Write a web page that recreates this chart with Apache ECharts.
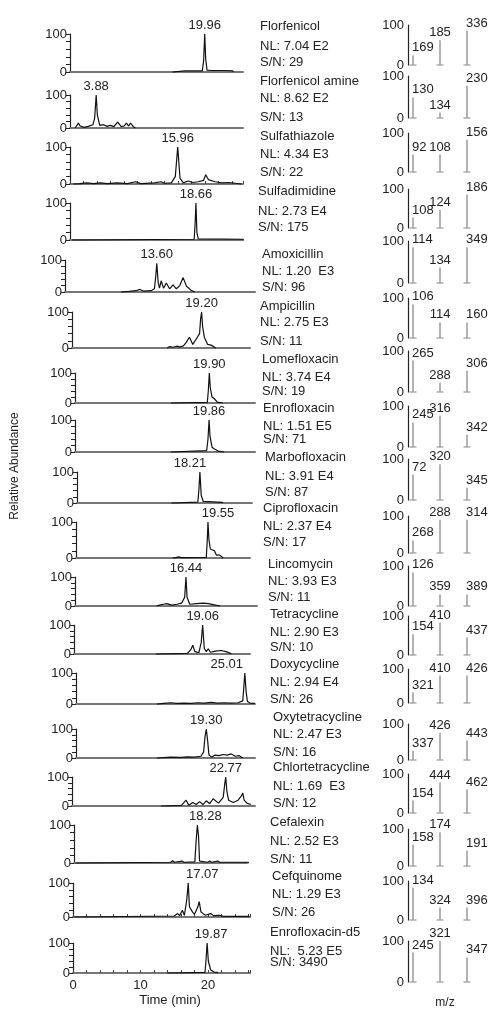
<!DOCTYPE html>
<html>
<head>
<meta charset="utf-8">
<script src="https://cdn.jsdelivr.net/npm/echarts@6/dist/echarts.min.js"></script>
<style>
html,body{margin:0;padding:0;background:#fff}
#chart{width:499px;height:1012px}
</style>
</head>
<body>
<div id="chart"></div>
<script>
// compound names and the NL / S/N lines
var names = ['Florfenicol','Florfenicol amine','Sulfathiazole','Sulfadimidine','Amoxicillin','Ampicillin',
  'Lomefloxacin','Enrofloxacin','Marbofloxacin','Ciprofloxacin','Lincomycin','Tetracycline',
  'Doxycycline','Oxytetracycline','Chlortetracycline','Cefalexin','Cefquinome','Enrofloxacin-d5'];
var nlText = ['NL: 7.04 E2','NL: 8.62 E2','NL: 4.34 E3','NL: 2.73 E4','NL: 1.20  E3','NL: 2.75 E3',
  'NL: 3.74 E4','NL: 1.51 E5','NL: 3.91 E4','NL: 2.37 E4','NL: 3.93 E3','NL: 2.90 E3',
  'NL: 2.94 E4','NL: 2.47 E3','NL: 1.69  E3','NL: 2.52 E3','NL: 1.29 E3','NL:  5.23 E5'];
var snText = ['S/N: 29','S/N: 13','S/N: 22','S/N: 175','S/N: 96','S/N: 11','S/N: 19','S/N: 71','S/N: 87',
  'S/N: 17','S/N: 11','S/N: 10','S/N: 26','S/N: 16','S/N: 12','S/N: 11','S/N: 26','S/N: 3490'];

// chromatograms: [time (min), relative abundance]
var florfenicol = [[15.2,0],[15.3,3],[17,3],[19.6,3],[19.8,30],[19.96,100],[20.1,35],[20.3,5],[21,4],[23,4],[24.1,3],[24.2,0]];
var florfenicolAmine = [[0.75,0],[1.25,15],[1.5,6],[1.75,10],[2.1,2],[2.7,5],[3.4,10],[3.65,30],[3.88,100],[4.05,40],[4.4,8],
  [4.97,10],[5.5,5],[5.97,8],[6.5,4],[7.06,18],[7.6,4],[8.0,6],[8.36,15],[8.7,6],[8.96,15],[9.45,3],[9.7,0]];
var sulfathiazole = [[0.5,0],[0.6,3],[1.5,1],[2.5,3],[3.5,1],[4.5,3],[5.5,1],[7,3],[8.5,1],[9.7,6],[10.5,1],[12.5,3],[13.5,6],
  [14,2],[15,3],[15.6,20],[15.96,100],[16.3,15],[16.8,3],[17.5,8],[18.2,4],[19,6],[19.8,10],[20.1,25],[20.5,12],[21.5,6],
  [22.5,3],[23.5,4],[24.5,2],[25.4,0]];
var sulfadimidine = [[0.3,0],[0.4,2],[18.4,2],[18.55,50],[18.66,100],[18.8,20],[19.0,3],[25.6,2],[25.7,0]];
var amoxicillin = [[8.3,0],[9.5,2],[10.5,4],[11.1,8],[11.6,3],[12.75,4],[13.25,10],[13.45,50],[13.6,90],[13.8,30],[14.0,12],
  [14.25,35],[14.6,12],[15.0,28],[15.5,10],[16.0,22],[16.5,10],[17.0,20],[17.5,45],[18.0,18],[18.7,5],[19.2,0]];
var ampicillin = [[14.1,0],[14.5,4],[15,2],[15.5,5],[16,3],[16.5,6],[16.9,15],[17.4,30],[17.9,10],[18.4,25],[18.9,40],
  [19.05,80],[19.2,100],[19.35,60],[19.6,30],[20.1,10],[20.6,8],[21.3,0]];
var lomefloxacin = [[14.2,0],[14.3,2],[19.6,2],[19.75,40],[19.9,100],[20.05,50],[20.3,20],[20.6,15],[21.1,3],[21.9,0]];
var enrofloxacin = [[14.2,0],[14.3,4],[19.5,4],[19.7,40],[19.86,100],[20.0,50],[20.3,15],[20.6,10],[21.2,3],[22.1,0]];
var marbofloxacin = [[14,0],[14.1,3],[17.9,3],[18.05,40],[18.21,100],[18.4,25],[18.7,5],[21.5,2],[21.6,0]];
var ciprofloxacin = [[14.3,0],[14.4,3],[14.8,1],[15.2,3],[15.6,1],[19.3,2],[19.45,50],[19.55,100],[19.7,50],[19.9,25],
  [20.5,20],[20.8,8],[21.3,8],[21.8,0]];
var lincomycin = [[12.1,0],[12.5,3],[13.1,6],[13.6,8],[14.3,3],[15.1,6],[15.8,10],[16.25,30],[16.44,100],[16.6,30],[17.0,6],
  [18.0,8],[19.0,10],[19.8,8],[20.5,5],[21.5,0]];
var tetracycline = [[12.1,0],[12.2,2],[16.8,2],[17.3,15],[17.6,30],[17.9,8],[18.5,5],[18.85,40],[19.06,100],[19.3,20],
  [19.6,8],[19.9,18],[20.2,6],[21,10],[21.8,12],[22.5,8],[23.2,2],[23.3,0]];
var doxycycline = [[12,0],[12.1,3],[13,2],[14,4],[15,2],[16,3],[17,2],[18,4],[19,3],[20,5],[21,3],[22,4],[23,3],[24,4],
  [24.7,10],[24.85,50],[25.01,100],[25.2,40],[25.4,8],[25.8,3],[26.5,2]];
var oxytetracycline = [[12,0],[12.1,2],[14,3],[15.5,2],[16.5,4],[17.5,3],[18.5,6],[18.9,20],[19.1,70],[19.3,100],[19.5,60],
  [19.7,10],[20.1,3],[20.6,10],[21.2,8],[21.8,12],[22.4,10],[23,14],[23.6,6],[24.2,8],[24.7,0]];
var chlortetracycline = [[13.2,0],[13.3,2],[16.2,2],[16.9,20],[17.3,3],[17.9,12],[18.4,5],[18.9,15],[19.4,5],[19.9,18],
  [20.4,8],[20.9,25],[21.7,10],[22.4,30],[22.6,70],[22.77,100],[22.95,50],[23.2,20],[23.9,12],[24.6,20],[25.1,35],
  [25.3,45],[25.5,20],[25.9,10],[26.5,5]];
var cefalexin = [[0.2,0],[0.3,2],[14.3,2],[14.6,6],[14.9,2],[16.0,5],[16.3,2],[17.9,3],[18.1,60],[18.28,100],[18.45,70],
  [18.6,5],[19.8,2],[20.1,5],[20.4,2],[21.3,5],[21.6,2],[25.8,2],[25.9,0]];
var cefquinome = [[0.2,0],[0.3,2],[15.0,3],[15.5,10],[15.8,4],[16.2,20],[16.5,5],[16.85,50],[17.07,100],[17.25,30],
  [17.7,15],[18.0,8],[18.5,30],[18.7,45],[18.95,15],[19.2,12],[19.6,5],[20.4,10],[20.8,4],[21.7,5],[22.2,2],[26,2],[26.1,0]];
var enrofloxacinD5 = [[14,0],[14.1,2],[19.55,2],[19.7,40],[19.87,100],[20.05,40],[20.4,10],[20.9,3],[21.4,2],[21.5,0]];

var traces = [florfenicol, florfenicolAmine, sulfathiazole, sulfadimidine, amoxicillin, ampicillin, lomefloxacin,
  enrofloxacin, marbofloxacin, ciprofloxacin, lincomycin, tetracycline, doxycycline, oxytetracycline,
  chlortetracycline, cefalexin, cefquinome, enrofloxacinD5];

// product ion spectra: labelled m/z and relative abundance
var ions = [['169','185','336'],['130','134','230'],['92','108','156'],['108','124','186'],['114','134','349'],
  ['106','114','160'],['265','288','306'],['245','316','342'],['72','320','345'],['268','288','314'],
  ['126','359','389'],['154','410','437'],['321','410','426'],['337','426','443'],['154','444','462'],
  ['158','174','191'],['134','324','396'],['245','321','347']];
var ionAbund = [[24,62,86],[49,13,77],[45,45,83],[27,47,86],[85,37,85],[84,39,39],[77,23,52],[60,77,30],[62,87,30],
  [34,90,90],[84,29,29],[53,83,45],[31,81,81],[26,76,54],[32,78,60],[58,91,42],[83,32,32],[72,100,60]];

var timeTickLabels = [0, 10, 20];

// layout (pixels)
var PX_PER_MIN = 6.75;
var cTop = [34,95,147,203,260,312,373,420,472,522,577,625,673,729,777,825,883,943];
var cBot = [72,128,184,240,292,348,403,452,503,558,606,654,704,758,806,863,917,973];
var cLeft = [70,70,70,70,65,72,75,75,77,76,75,74,76,76,72,74,73,73];
var cRight = [243,243,243,243,255,250,255,255,252,250,257,250,255,255,255,247,250,250];
var peakShift = [0,0,0,0,0,0,0,0,-10,10,0,0,-18,0,0,8,14,4];
var tickPanels = [2, 16, 17];
var sTop = [25,76,133,189,241,298,351,406,459,516,566,616,669,724,774,829,881,941];
var sBot = [65,118,172,228,283,338,392,447,500,553,606,655,703,760,813,866,920,982];
var textX = [260,260,260,258,262,260,262,263,265,263,268,270,270,273,273,270,272,270];
var textY = [[27,47,63],[82,99,118],[137,155,173],[192,212,228],[255,272,288],[307,323,342],[360,378,392],
  [409,427,440],[458,477,493],[509,527,543],[565,582,598],[615,633,648],[665,683,700],[718,735,753],
  [768,787,804],[823,842,860],[877,895,913],[933,952,963]];

var FONT = 'Liberation Sans, Arial, sans-serif';
var grids = [], xAxes = [], yAxes = [], series = [], graphics = [];
var last = traces.length - 1;

traces.forEach(function (tr, i) {
  var w = cRight[i] - cLeft[i];
  grids.push({left: cLeft[i], top: cTop[i], width: w, height: cBot[i] - cTop[i]});
  var ticks = tickPanels.indexOf(i) >= 0;
  xAxes.push({
    type: 'value', gridIndex: i, min: 0, max: w / PX_PER_MIN, interval: 2,
    axisLine: {lineStyle: {color: '#777', width: 2}},
    axisTick: {show: ticks, inside: true, length: 3, lineStyle: {color: '#444'}},
    axisLabel: {show: i === last, margin: 6, fontSize: 13, color: '#222', fontFamily: FONT,
      formatter: function (v) { return timeTickLabels.indexOf(v) >= 0 ? String(v) : ''; }},
    splitLine: {show: false}
  });
  yAxes.push({
    type: 'value', gridIndex: i, min: 0, max: 100, interval: 20,
    axisLine: {show: true, lineStyle: {color: '#222', width: 1.2}},
    axisTick: {show: true, length: 4, lineStyle: {color: '#222'}},
    axisLabel: {margin: 3, fontSize: 13, color: '#222', fontFamily: FONT,
      formatter: function (v) { return (v === 0 || v === 100) ? String(v) : ''; }},
    splitLine: {show: false}
  });
  var peak = 0;
  tr.forEach(function (p, k) { if (p[1] > tr[peak][1]) peak = k; });
  var data = tr.map(function (p, k) {
    if (k !== peak) return p;
    return {value: p, label: {show: true, position: 'top', distance: 2, offset: [peakShift[i], 0],
      fontSize: 13, color: '#222', fontFamily: FONT,
      formatter: function (o) { return o.value[0].toFixed(2); }}};
  });
  series.push({
    type: 'line', xAxisIndex: i, yAxisIndex: i, data: data,
    showSymbol: true, showAllSymbol: true, symbolSize: 0, silent: true, clip: false,
    lineStyle: {color: '#111', width: 1.2}, itemStyle: {color: '#111'}
  });

  graphics.push({type: 'text', left: textX[i], top: textY[i][0] - 7, style: {text: names[i], font: '13px ' + FONT, fill: '#222'}});
  graphics.push({type: 'text', left: textX[i], top: textY[i][1] - 7, style: {text: nlText[i], font: '13px ' + FONT, fill: '#222'}});
  graphics.push({type: 'text', left: textX[i], top: textY[i][2] - 7, style: {text: snText[i], font: '13px ' + FONT, fill: '#222'}});
});

ions.forEach(function (ion, j) {
  var g = traces.length + j;
  grids.push({left: 413, top: sTop[j], width: 54, height: sBot[j] - sTop[j]});
  xAxes.push({type: 'category', gridIndex: g, data: ion, boundaryGap: false, show: false});
  yAxes.push({
    type: 'value', gridIndex: g, min: 0, max: 100, interval: 100, offset: 5,
    axisLine: {show: true, lineStyle: {color: '#222', width: 1.2}},
    axisTick: {show: false},
    axisLabel: {margin: 4, fontSize: 13, color: '#222', fontFamily: FONT},
    splitLine: {show: false}
  });
  var aligns = ['left', 'center', 'left'];
  series.push({
    type: 'bar', xAxisIndex: g, yAxisIndex: g, barWidth: 1.5, clip: false, silent: true,
    itemStyle: {color: '#9a9a9a'},
    data: ionAbund[j].map(function (v, k) {
      return {value: v, label: {align: aligns[k], offset: [k === 1 ? 0 : -1, 0]}};
    }),
    label: {show: true, position: 'top', distance: 1, formatter: '{b}', fontSize: 13, color: '#222', fontFamily: FONT}
  });
  series.push({
    type: 'scatter', xAxisIndex: g, yAxisIndex: g, symbol: 'rect', symbolSize: [7, 1.5], clip: false, silent: true,
    itemStyle: {color: '#9a9a9a'}, data: ionAbund[j].map(function () { return 0; })
  });
});

graphics.push({type: 'text', x: 15, y: 466, rotation: Math.PI / 2,
  style: {text: 'Relative Abundance', font: '12px ' + FONT, fill: '#222', textAlign: 'center', textVerticalAlign: 'middle'}});
graphics.push({type: 'text', x: 170, y: 1000,
  style: {text: 'Time (min)', font: '13px ' + FONT, fill: '#222', textAlign: 'center', textVerticalAlign: 'middle'}});
graphics.push({type: 'text', x: 445, y: 1003,
  style: {text: 'm/z', font: '12px ' + FONT, fill: '#222', textAlign: 'center', textVerticalAlign: 'middle'}});

var chart = echarts.init(document.getElementById('chart'));
chart.setOption({
  animation: false,
  backgroundColor: '#fff',
  grid: grids,
  xAxis: xAxes,
  yAxis: yAxes,
  series: series,
  graphic: graphics
});
</script>
</body>
</html>
